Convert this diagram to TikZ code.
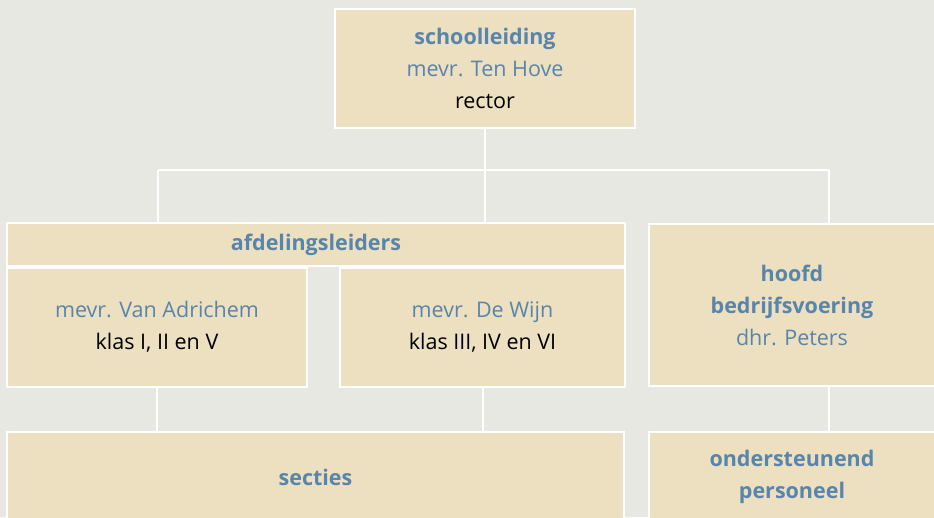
\documentclass[tikz,border=0pt]{standalone}
\usepackage{fontspec}
\setmainfont{Open Sans}
\definecolor{bgc}{RGB}{232,232,227}
\definecolor{boxc}{RGB}{237,224,192}
\definecolor{namec}{RGB}{88,133,172}
\begin{document}
\begin{tikzpicture}[
    x=1pt, y=-1pt,
    every node/.style={font=\fontsize{21.5}{32}\selectfont},
    orgbox/.style={fill=boxc, draw=white, line width=2pt, align=center, inner sep=0pt},
    link/.style={draw=white, line width=2pt},
]

    \fill[bgc] (0,0) rectangle (934,517);
    \useasboundingbox (0,0) rectangle (934,517);

    \node[orgbox, minimum width=300, minimum height=119] (top) at (485, 68)
        {{\color{namec}\bfseries schoolleiding}\\{\color{namec}mevr. Ten Hove}\\rector};
    \node[orgbox, minimum width=618, minimum height=43] (afd) at (316, 244.5)
        {{\color{namec}\bfseries afdelingsleiders}};
    \node[orgbox, minimum width=300, minimum height=119] (sub1) at (157, 327)
        {{\color{namec}mevr. Van Adrichem}\\klas I, II en V};
    \node[orgbox, minimum width=285, minimum height=119] (sub2) at (482.5, 327)
        {{\color{namec}mevr. De Wijn}\\klas III, IV en VI};
    \node[orgbox, minimum width=286, minimum height=162] (hoofd) at (792, 305)
        {{\color{namec}\bfseries hoofd}\\{\color{namec}\bfseries bedrijfsvoering}\\{\color{namec}dhr. Peters}};
    \node[orgbox, minimum width=617, minimum height=90] (secties) at (315.5, 477)
        {{\color{namec}\bfseries secties}};
    \node[orgbox, minimum width=286, minimum height=90] (ond) at (792, 477)
        {{\color{namec}\bfseries ondersteunend}\\{\color{namec}\bfseries personeel}};

    % bus line under the top box
    \coordinate (busL) at (158, 170);
    \coordinate (busR) at (829, 170);

    \draw[link] (top.south) -- (top.south |- afd.north);
    \draw[link] (busL) -- (busR);
    \draw[link] (busL) -- (busL |- afd.north);
    \draw[link] (busR) -- (busR |- hoofd.north);
    \draw[link] (sub1.south) -- (sub1.south |- secties.north);
    \draw[link] (sub2.south) -- (sub2.south |- secties.north);
    \draw[link] (busR |- hoofd.south) -- (busR |- ond.north);

\end{tikzpicture}
\end{document}
